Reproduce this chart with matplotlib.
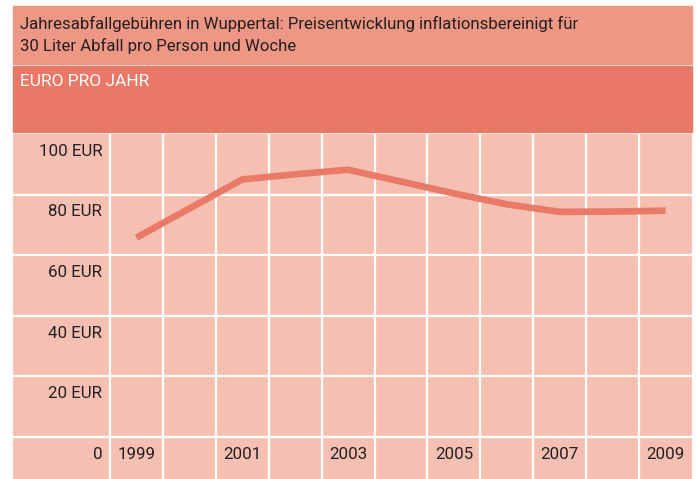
import numpy as np
import matplotlib
matplotlib.use("Agg")
import matplotlib.pyplot as plt
from matplotlib.patches import Rectangle
from matplotlib.transforms import offset_copy

# data
years = [1999, 2000, 2001, 2002, 2003, 2004, 2005, 2006, 2007, 2008, 2009]
euro = [65.8, 75.4, 85.0, 86.7, 88.2, 84.3, 80.4, 76.8, 74.3, 74.4, 74.7]
y_ticks = [0, 20, 40, 60, 80, 100]
y_labels = ["0", "20 EUR", "40 EUR", "60 EUR", "80 EUR", "100 EUR"]
x_label_years = [1999, 2001, 2003, 2005, 2007, 2009]
title = "Jahresabfallgebühren in Wuppertal: Preisentwicklung inflationsbereinigt für\n30 Liter Abfall pro Person und Woche"
unit = "EURO PRO JAHR"

c_title = "#EE9784"
c_band = "#EA7867"
c_cell = "#F5C0B1"
c_line = "#EA7A68"
c_text = "#231F20"

plt.rcParams['font.family'] = ['Roboto', 'DejaVu Sans']

W, H = 696, 479
fig = plt.figure(figsize=(W / 100, H / 100), dpi=100)
fig.patch.set_facecolor("white")

def fx(px):
    return px / W

def fy(px):
    return 1 - px / H

left, right = 13, 692
# title band and unit band
fig.patches.append(Rectangle((fx(left), fy(64.3)), fx(right - left), (64.3 - 6) / H,
                             transform=fig.transFigure, color=c_title, zorder=0))
fig.patches.append(Rectangle((fx(left), fy(132.3)), fx(right - left), (132.3 - 66.3) / H,
                             transform=fig.transFigure, color=c_band, zorder=0))
fig.text(fx(20), fy(35), title, color=c_text, fontsize=12.1, ha="left", va="center",
         linespacing=1.45)
fig.text(fx(20), fy(82), unit, color="white", fontsize=12.5, ha="left", va="center")

# grid area
top, bottom = 134, 479
ax = fig.add_axes([fx(left), fy(bottom), fx(right - left), (bottom - top) / H])
ax.set_facecolor(c_cell)
px_year = (right - 110) / 11
ax.set_xlim(1998.5 - (110 - left) / px_year, 2009.5)
px_eur = (437 - top) / 100
ax.set_ylim(-(bottom - 437) / px_eur, 100)

for v in np.arange(1998.5, 2009.5, 1):
    ax.axvline(v, color="white", lw=1.6, zorder=1)
for v in y_ticks[:-1]:
    ax.axhline(v, color="white", lw=1.6, zorder=1)

ax.plot(years, euro, color=c_line, lw=4.8, solid_capstyle="butt", solid_joinstyle="miter", zorder=3)

ax.set_xticks([])
ax.set_yticks([])
for s in ax.spines.values():
    s.set_visible(False)

tr = offset_copy(ax.transData, fig=fig, x=0, y=-12.5, units="points")
trl = offset_copy(ax.transData, fig=fig, x=-5.5, y=-12.5, units="points")
for v, lab in zip(y_ticks, y_labels):
    ax.text(1998.5, v, lab, transform=trl, ha="right", va="center",
            fontsize=12.2, color=c_text)
for yr in x_label_years:
    ax.text(yr, 0, str(yr), transform=tr, ha="center", va="center",
            fontsize=12.2, color=c_text)

fig.savefig("out.png", dpi=100)
